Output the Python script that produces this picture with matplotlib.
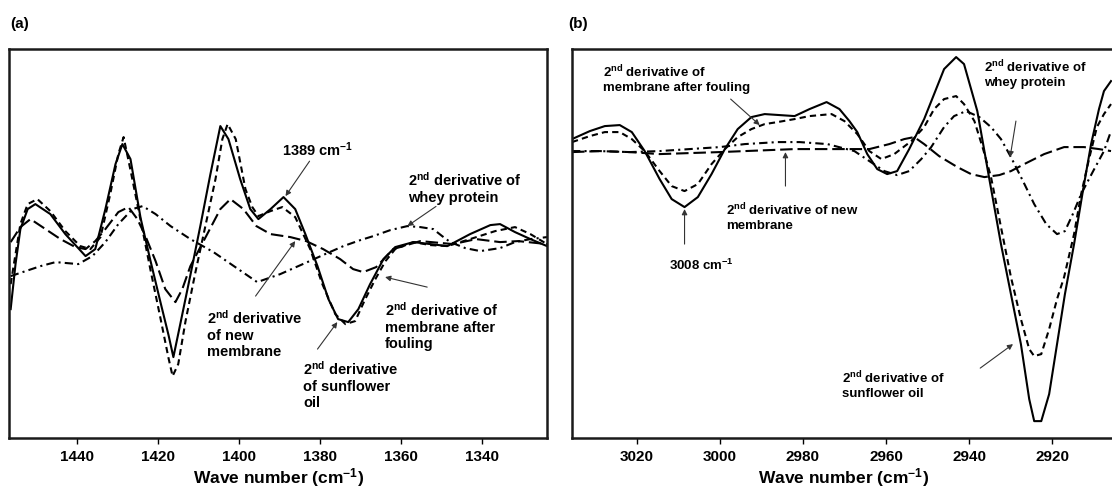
import numpy as np
import matplotlib
matplotlib.use("Agg")
import matplotlib.pyplot as plt

plt.rcParams['font.family'] = ['Liberation Sans', 'DejaVu Sans']
plt.rcParams['font.weight'] = 'bold'
plt.rcParams['mathtext.fontset'] = 'custom'
plt.rcParams['mathtext.rm'] = 'Liberation Sans:bold'
plt.rcParams['mathtext.default'] = 'rm'
plt.rcParams['lines.scale_dashes'] = False

# ---- panel (a): 1455-1325 cm-1 ----
a_oil_x = [1456.5, 1455.3, 1454.1, 1452.3, 1450.4, 1446.7, 1443.0, 1438.0, 1435.6, 1433.1,
           1430.6, 1428.9, 1426.9, 1424.4, 1422.0, 1419.5, 1417.5, 1416.3, 1414.6, 1412.1,
           1409.6, 1407.2, 1404.7, 1402.7, 1399.8, 1397.3, 1395.3, 1392.3, 1389.1, 1386.2,
           1383.7, 1380.7, 1378.0, 1375.6, 1373.1, 1370.6, 1367.7, 1364.4, 1361.5, 1357.0,
           1352.8, 1348.6, 1343.0, 1338.0, 1335.6, 1331.9, 1328.1, 1324.0]
a_oil_y = [-6.0, -1.5, 2.0, 4.0, 4.5, 3.5, 1.5, -0.7, 0.0, 4.0,
           8.5, 10.5, 9.0, 3.1, -1.1, -5.3, -8.6, -10.8, -7.5, -2.6,
           2.4, 7.4, 12.3, 11.0, 7.0, 4.0, 3.0, 4.0, 5.2, 4.0,
           1.5, -1.7, -5.0, -7.0, -7.3, -6.0, -3.5, -1.0, 0.2, 0.7,
           0.5, 0.3, 1.5, 2.4, 2.5, 1.7, 1.0, 0.3]

a_foul_x = [1456.5, 1455.3, 1454.1, 1452.3, 1449.9, 1446.7, 1443.0, 1439.3, 1436.8, 1434.3,
            1431.9, 1429.9, 1428.6, 1426.9, 1424.4, 1422.0, 1419.5, 1417.5, 1416.5, 1415.1,
            1413.3, 1410.9, 1408.4, 1405.9, 1404.2, 1402.9, 1400.9, 1398.5, 1396.8, 1395.3,
            1392.3, 1389.4, 1386.2, 1382.5, 1379.5, 1376.3, 1373.8, 1371.4, 1368.9, 1366.4,
            1363.9, 1361.5, 1357.0, 1352.8, 1348.6, 1343.0, 1336.8, 1331.9, 1328.1, 1324.0]
a_foul_y = [-3.5, -0.5, 2.5, 4.5, 5.0, 3.8, 1.8, 0.3, 0.0, 1.2,
            5.5, 9.5, 11.2, 7.9, 2.9, -2.0, -6.9, -10.9, -12.7, -11.5,
            -7.2, -2.4, 2.3, 7.0, 11.0, 12.5, 11.0, 6.0, 4.2, 3.3,
            3.8, 4.2, 3.2, 0.0, -3.5, -6.5, -7.5, -7.2, -5.0, -3.0,
            -1.2, 0.0, 0.7, 0.4, 0.3, 1.0, 1.8, 2.2, 1.5, 0.5]

a_new_x = [1456.5, 1454.1, 1451.6, 1447.9, 1444.2, 1440.5, 1438.0, 1435.6, 1433.1, 1429.9,
           1427.4, 1425.2, 1423.2, 1420.7, 1418.3, 1415.8, 1414.1, 1412.1, 1408.2, 1404.7,
           1402.2, 1399.0, 1395.8, 1392.3, 1387.4, 1383.5, 1379.3, 1375.1, 1371.9, 1369.4,
           1366.2, 1362.0, 1355.3, 1347.2, 1341.5, 1335.6, 1331.1, 1324.0]
a_new_y = [0.7, 2.2, 3.0, 2.0, 1.0, 0.2, 0.0, 0.8, 2.0, 3.7,
           4.2, 3.0, 1.3, -1.2, -4.0, -5.3, -4.0, -1.7, 1.3, 4.0,
           5.0, 4.0, 2.3, 1.5, 1.2, 0.8, 0.0, -1.0, -2.0, -2.3,
           -1.8, 0.0, 0.8, 0.5, 1.0, 0.7, 0.8, 0.5]

a_whey_x = [1456.5, 1452.8, 1449.1, 1445.4, 1439.8, 1436.3, 1433.1, 1429.9, 1426.4, 1423.9,
            1420.7, 1417.0, 1412.1, 1406.4, 1401.0, 1395.6, 1389.9, 1383.2, 1378.8, 1374.3,
            1370.1, 1366.9, 1362.7, 1358.5, 1355.3, 1352.1, 1349.9, 1347.9, 1344.2, 1340.5,
            1335.6, 1331.9, 1328.1, 1324.0]
a_whey_y = [-2.7, -2.2, -1.7, -1.3, -1.5, -0.7, 0.7, 2.5, 4.0, 4.3,
            3.5, 2.3, 1.0, -0.3, -1.8, -3.3, -2.5, -1.3, -0.5, 0.3,
            0.9, 1.3, 1.9, 2.3, 2.2, 2.0, 1.3, 0.7, 0.1, -0.2,
            0.1, 0.7, 1.0, 1.2]

a_ticks = [1440, 1420, 1400, 1380, 1360, 1340]

# ---- panel (b): 3035-2905 cm-1 ----
b_oil_x = [3035.6, 3031.3, 3027.7, 3024.1, 3021.2, 3018.1, 3014.5, 3011.6, 3008.5, 3005.3,
           3002.0, 2998.8, 2995.7, 2992.4, 2989.2, 2985.6, 2982.0, 2978.4, 2974.3, 2971.2,
           2968.8, 2966.9, 2964.5, 2962.1, 2959.7, 2957.3, 2954.4, 2950.8, 2948.4, 2946.0,
           2943.1, 2941.2, 2938.0, 2935.1, 2932.3, 2929.9, 2927.5, 2925.5, 2924.3, 2922.6,
           2920.7, 2918.8, 2916.9, 2914.7, 2912.5, 2910.6, 2908.7, 2907.5, 2905.8]
b_oil_y = [1.0, 1.8, 2.3, 2.4, 1.7, -0.2, -3.0, -5.0, -5.8, -4.8,
           -2.5, 0.0, 2.0, 3.2, 3.5, 3.4, 3.3, 4.0, 4.7, 4.0,
           2.8, 1.7, -0.5, -2.0, -2.5, -2.2, 0.0, 3.0, 5.5, 8.0,
           9.2, 8.5, 3.8, -3.0, -9.5, -14.5, -19.5, -25.0, -27.2, -27.2,
           -24.5, -19.5, -14.5, -9.5, -4.0, 0.5, 4.0, 5.8, 6.8]

b_foul_x = [3035.6, 3031.3, 3027.7, 3024.1, 3021.2, 3018.1, 3014.5, 3011.6, 3008.5, 3005.3,
            3002.0, 2998.8, 2995.7, 2992.4, 2989.2, 2986.1, 2982.0, 2978.4, 2973.1, 2970.0,
            2966.9, 2964.0, 2961.1, 2958.0, 2953.9, 2950.8, 2948.4, 2946.0, 2943.1, 2941.2,
            2938.7, 2936.6, 2934.7, 2932.3, 2929.9, 2927.5, 2925.5, 2924.3, 2922.6, 2920.7,
            2918.8, 2917.1, 2914.7, 2913.0, 2911.1, 2909.2, 2907.5, 2905.8]
b_foul_y = [0.7, 1.3, 1.7, 1.7, 1.0, -0.2, -2.2, -3.7, -4.2, -3.5,
            -1.5, 0.0, 1.2, 2.0, 2.5, 2.7, 3.0, 3.3, 3.5, 2.8,
            1.5, -0.2, -1.0, -0.5, 0.8, 2.2, 4.0, 5.0, 5.3, 4.5,
            2.8, 0.0, -2.8, -7.8, -12.8, -17.0, -20.0, -20.7, -20.5, -18.0,
            -15.0, -12.8, -8.5, -4.5, -1.0, 2.2, 3.5, 4.5]

b_new_x = [3035.6, 3028.9, 3021.7, 3014.5, 3007.3, 3000.0, 2994.0, 2982.0, 2970.0, 2964.0,
           2959.2, 2955.6, 2953.2, 2950.8, 2947.2, 2942.8, 2939.5, 2936.3, 2932.7, 2929.9,
           2926.7, 2921.9, 2917.1, 2912.3, 2908.7, 2905.8]
b_new_y = [-0.3, -0.2, -0.3, -0.5, -0.4, -0.3, -0.2, 0.0, 0.0, 0.0,
           0.5, 1.0, 1.2, 0.5, -0.7, -1.8, -2.5, -2.8, -2.6, -2.2,
           -1.5, -0.5, 0.2, 0.2, 0.0, -0.2]

b_whey_x = [3035.6, 3028.9, 3021.7, 3014.5, 3007.3, 3000.0, 2994.0, 2986.1, 2980.8, 2974.1,
            2967.6, 2964.0, 2960.4, 2957.3, 2954.4, 2951.5, 2949.1, 2946.0, 2943.6, 2940.7,
            2937.5, 2934.7, 2932.3, 2929.9, 2927.0, 2924.3, 2921.4, 2918.8, 2916.9, 2915.0,
            2913.0, 2910.1, 2907.5, 2905.8]
b_whey_y = [-0.2, -0.2, -0.3, -0.2, 0.0, 0.2, 0.5, 0.7, 0.7, 0.5,
            -0.2, -1.2, -2.2, -2.6, -2.2, -1.0, 0.2, 2.2, 3.3, 3.8,
            3.2, 2.2, 1.0, -0.8, -3.2, -5.5, -7.5, -8.5, -8.2, -6.5,
            -4.5, -2.2, -0.2, 1.8]

b_ticks = [3020, 3000, 2980, 2960, 2940, 2920]

SHORT = (0, (4.5, 3))
LONG = (0, (9, 3.5))
DASHDOT = (0, (6, 3, 1.5, 3))

fig = plt.figure(figsize=(11.12, 4.89), dpi=100)
axa = fig.add_axes([0.0085, 0.102, 0.4834, 0.7956])
axb = fig.add_axes([0.5144, 0.102, 0.4892, 0.7956])

lw = 1.5
axa.plot(a_oil_x, a_oil_y, color='black', lw=lw)
axa.plot(a_foul_x, a_foul_y, color='black', lw=lw, linestyle=SHORT)
axa.plot(a_new_x, a_new_y, color='black', lw=lw, linestyle=LONG)
axa.plot(a_whey_x, a_whey_y, color='black', lw=lw, linestyle=DASHDOT)
axa.set_xlim(1456.8, 1324.0)
axa.set_ylim(-18.9, 20.0)

axb.plot(b_oil_x, b_oil_y, color='black', lw=lw)
axb.plot(b_foul_x, b_foul_y, color='black', lw=lw, linestyle=SHORT)
axb.plot(b_new_x, b_new_y, color='black', lw=lw, linestyle=LONG)
axb.plot(b_whey_x, b_whey_y, color='black', lw=lw, linestyle=DASHDOT)
axb.set_xlim(3035.6, 2904.6)
axb.set_ylim(-28.9, 10.0)

for ax, ticks in [(axa, a_ticks), (axb, b_ticks)]:
    ax.set_xticks(ticks)
    ax.set_xticklabels([str(t) for t in ticks], fontsize=11, fontweight='bold')
    ax.set_yticks([])
    ax.tick_params(axis='x', direction='out', length=4, width=1, pad=4)
    for s in ax.spines.values():
        s.set_linewidth(1.8)
        s.set_color('#1a1a1a')
    ax.set_xlabel('Wave number (cm$^{-1}$)', fontsize=12.5, fontweight='bold', labelpad=1)

fig.text(0.009, 0.951, '(a)', fontsize=11, fontweight='bold', va='center')
fig.text(0.511, 0.951, '(b)', fontsize=11, fontweight='bold', va='center')

arw = dict(arrowstyle='-|>', lw=0.8, color='#333333', mutation_scale=8, shrinkA=0, shrinkB=0)
fa = 10.5
axa.annotate('1389 cm$^{-1}$', xy=(1388.6, 5.3), xytext=(1389.4, 10.0),
             fontsize=fa, ha='left', va='center', arrowprops=arw)
axa.annotate('2$^{nd}$ derivative of\nwhey protein', xy=(1358.5, 2.3), xytext=(1358.3, 6.25),
             fontsize=fa, ha='left', va='center', arrowprops=arw)
axa.annotate('', xy=(1386.2, 0.8), xytext=(1396.0, -4.7), arrowprops=arw)
axa.text(1407.9, -8.4, '2$^{nd}$ derivative\nof new\nmembrane', fontsize=fa, ha='left', va='center')
axa.annotate('', xy=(1375.8, -7.3), xytext=(1380.7, -10.0), arrowprops=arw)
axa.text(1384.2, -13.5, '2$^{nd}$ derivative\nof sunflower\noil', fontsize=fa, ha='left', va='center')
axa.annotate('', xy=(1364.0, -2.8), xytext=(1353.6, -3.8), arrowprops=arw)
axa.text(1364.0, -7.6, '2$^{nd}$ derivative of\nmembrane after\nfouling', fontsize=fa, ha='left', va='center')

fb = 9.5
axb.annotate('', xy=(2990.4, 2.4), xytext=(2997.4, 5.0), arrowprops=arw)
axb.text(3028.2, 7.1, '2$^{nd}$ derivative of\nmembrane after fouling', fontsize=fb, ha='left', va='center')
axb.annotate('', xy=(2984.2, -0.3), xytext=(2984.2, -3.7), arrowprops=arw)
axb.text(2998.6, -6.65, '2$^{nd}$ derivative of new\nmembrane', fontsize=fb, ha='left', va='center')
axb.annotate('', xy=(3008.5, -6.0), xytext=(3008.5, -9.5), arrowprops=arw)
axb.text(3004.4, -11.5, '3008 cm$^{-1}$', fontsize=fb, ha='center', va='center')
axb.annotate('', xy=(2930.1, -0.8), xytext=(2928.7, 2.8), arrowprops=arw)
axb.text(2936.3, 7.65, '2$^{nd}$ derivative of\nwhey protein', fontsize=fb, ha='left', va='center')
axb.annotate('', xy=(2929.4, -19.5), xytext=(2937.3, -21.9), arrowprops=arw)
axb.text(2970.5, -23.45, '2$^{nd}$ derivative of\nsunflower oil', fontsize=fb, ha='left', va='center')

fig.savefig('out.png', dpi=100)
